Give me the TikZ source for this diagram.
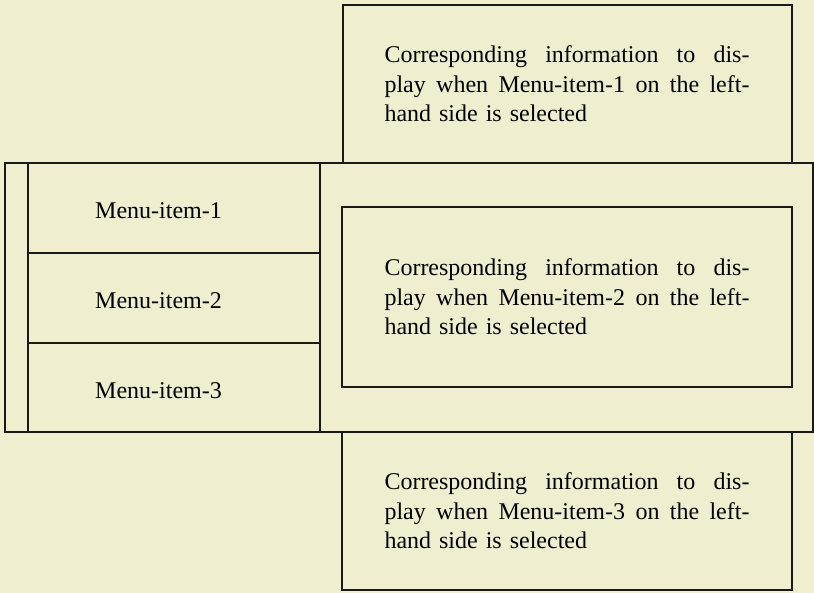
\documentclass[tikz,border=0pt]{standalone}
\usepackage{fontspec}
\setmainfont{Liberation Serif}
\definecolor{bgc}{RGB}{239,238,207}
\definecolor{ln}{RGB}{25,25,25}
\newcommand{\jline}[1]{\leavevmode\hbox to 365pt{#1}}
\tikzset{
  frame/.style={draw=ln,line width=1.8pt},
  info/.style={text width=365pt,inner sep=0pt,align=left,font=\fontsize{24}{29.5}\selectfont},
  menutext/.style={anchor=base west,inner sep=0pt,font=\fontsize{24}{29}\selectfont}
}
\begin{document}
\begin{tikzpicture}[x=1pt,y=-1pt]
\useasboundingbox (0,0) rectangle (814,593);
\fill[bgc] (0,0) rectangle (814,593);
% top box
\draw[frame] (343,5) rectangle (792,163);
% middle outer box
\draw[frame] (5,163) rectangle (813,432);
\draw[frame] (28,163) -- (28,432);
\draw[frame] (320,163) -- (320,432);
\draw[frame] (28,253) -- (320,253);
\draw[frame] (28,343) -- (320,343);
% inner box
\draw[frame] (342,207) rectangle (792,387);
% bottom box
\draw[frame] (342,432) rectangle (792,590);
% menu texts
\node[menutext] (m1) at (95,219) {Menu-item-1};
\node[menutext] (m2) at (95,309) {Menu-item-2};
\node[menutext] (m3) at (95,399) {Menu-item-3};
% info texts
\node[info] (i1) at (567,84) {\jline{Corresponding\hfill information\hfill to\hfill dis-}\\\jline{play\hfill when\hfill Menu-item-1\hfill on\hfill the\hfill left-}\\hand side is selected};
\node[info] (i2) at (567,297) {\jline{Corresponding\hfill information\hfill to\hfill dis-}\\\jline{play\hfill when\hfill Menu-item-2\hfill on\hfill the\hfill left-}\\hand side is selected};
\node[info] (i3) at (567,511) {\jline{Corresponding\hfill information\hfill to\hfill dis-}\\\jline{play\hfill when\hfill Menu-item-3\hfill on\hfill the\hfill left-}\\hand side is selected};
\end{tikzpicture}
\end{document}
